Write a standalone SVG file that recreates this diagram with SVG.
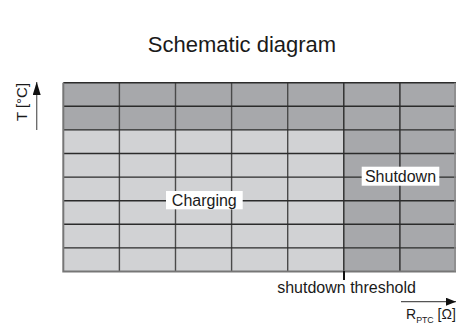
<svg xmlns="http://www.w3.org/2000/svg" width="456" height="326" viewBox="0 0 456 326">
<style>
text{font-family:"Liberation Sans",Arial,sans-serif;fill:#1a1a1a}
.light{fill:#d1d2d4}
.dark{fill:#a7a8ab}
.grid{stroke:#2b2b2b;stroke-width:1.4;fill:none}
.vgrid{stroke:#4a4a4a;stroke-width:1.4;fill:none}
.border{stroke:#767676;stroke-width:2;fill:none}
.lbl{fill:#ffffff}
.axis{stroke:#555;stroke-width:1.3;fill:none}
</style>
<defs>
<marker id="ah" viewBox="0 0 10 8" refX="10" refY="4" markerWidth="10" markerHeight="8" markerUnits="userSpaceOnUse" orient="auto">
<path d="M0,0 L10,4 L0,8 Z" fill="#111"/>
</marker>
<marker id="ahv" viewBox="0 0 8 13" refX="4" refY="0" markerWidth="8" markerHeight="13" markerUnits="userSpaceOnUse" orient="0">
<path d="M4,0 L8,13 L0,13 Z" fill="#111"/>
</marker>
</defs>
<text x="242" y="52" font-size="22" text-anchor="middle">Schematic diagram</text>
<g id="grid">
<rect class="light" x="63.3" y="82.7" width="392.7" height="188.8"/>
<rect class="dark" x="63.3" y="82.7" width="392.7" height="47.2"/>
<rect class="dark" x="343.8" y="129.9" width="112.2" height="141.6"/>
<path class="vgrid" d="M119.4,82.7V271.5M175.5,82.7V271.5M231.6,82.7V271.5M287.7,82.7V271.5"/>
<path class="grid" d="M343.8,82.7V271.5M399.9,82.7V271.5M63.3,82.7H456M63.3,106.3H456M63.3,129.9H456M63.3,153.5H456M63.3,177.1H456M63.3,200.7H456M63.3,224.3H456M63.3,247.9H456"/>
<path class="border" d="M63.3,82.7V271.5H456"/>
<path d="M455,82.7V271.5" stroke="#888" stroke-width="1.5"/>
</g>
<g id="charging">
<rect class="lbl" x="166" y="191" width="76.7" height="18.3"/>
<text x="204.3" y="205.5" font-size="16" text-anchor="middle">Charging</text>
</g>
<g id="shutdown">
<rect class="lbl" x="361.7" y="166.7" width="77.6" height="19"/>
<text x="400.5" y="181.5" font-size="16" text-anchor="middle">Shutdown</text>
</g>
<g id="threshold">
<text x="346.6" y="293" font-size="16" text-anchor="middle">shutdown threshold</text>
</g>
<g id="y-axis">
<text transform="translate(26.8,102) rotate(-90)" font-size="15" text-anchor="middle">T [°C]</text>
</g>
<g id="x-axis">
<text x="406" y="318.5" font-size="14">R<tspan font-size="8.8" dy="4.5">PTC</tspan><tspan dy="-4.5" font-size="14"> [Ω]</tspan></text>
</g>
<g id="connectors">
<path d="M36.7,130V82" class="axis" marker-end="url(#ahv)" style="stroke:#666"/>
<path d="M401,301.7H456" class="axis" marker-end="url(#ah)"/>
<path d="M344,271V280" stroke="#111" stroke-width="2"/>
</g>
</svg>
